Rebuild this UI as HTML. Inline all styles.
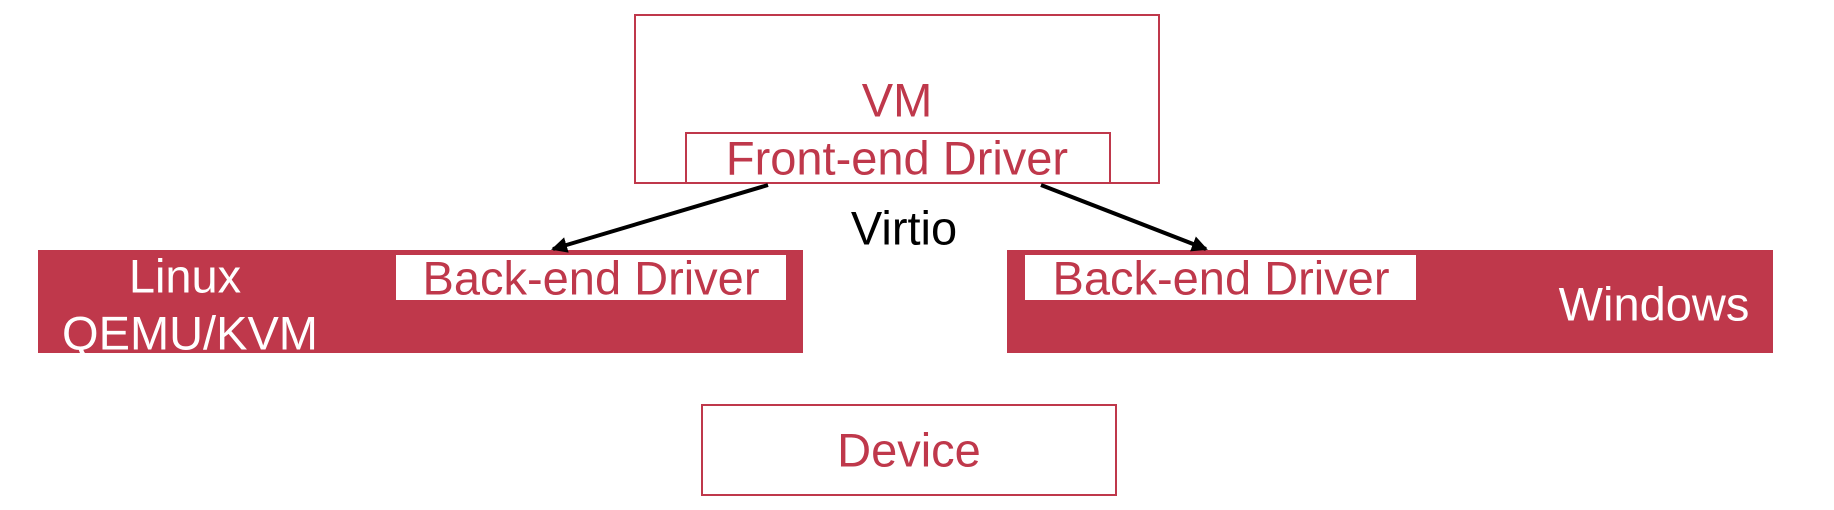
<!DOCTYPE html>
<html><head><style>
body{margin:0;width:1834px;height:510px;background:#fff;position:relative;overflow:hidden;font-family:"Liberation Sans",sans-serif}
.b{position:absolute;box-sizing:border-box}
.t{position:absolute;white-space:nowrap;transform:translate(-50%,-50%);font-size:47px;line-height:1}
.r{color:#bf384b}.w{color:#fff}
</style></head><body>
<div class="b" style="left:634px;top:14px;width:526px;height:170px;border:2px solid #bf384b"></div>
<div class="b" style="left:685px;top:132px;width:426px;height:52px;border:2px solid #bf384b;background:#fff"></div>
<div class="t r" style="left:897px;top:100px">VM</div>
<div class="t r" style="left:897px;top:158px">Front-end Driver</div>
<div class="b" style="left:38px;top:250px;width:765px;height:103px;background:#bf384b"></div>
<div class="b" style="left:396px;top:255px;width:390px;height:45px;background:#fff"></div>
<div class="t r" style="left:591px;top:278px">Back-end Driver</div>
<div class="t w" style="left:185px;top:276px">Linux</div>
<div class="t w" style="left:190px;top:333px">QEMU/KVM</div>
<div class="b" style="left:1007px;top:250px;width:766px;height:103px;background:#bf384b"></div>
<div class="b" style="left:1025px;top:255px;width:391px;height:45px;background:#fff"></div>
<div class="t r" style="left:1221px;top:278px">Back-end Driver</div>
<div class="t w" style="left:1654px;top:304px">Windows</div>
<div class="b" style="left:701px;top:404px;width:416px;height:92px;border:2px solid #bf384b"></div>
<div class="t r" style="left:909px;top:450px">Device</div>
<div class="t" style="left:904px;top:228px;color:#000">Virtio</div>
<svg width="1834" height="510" style="position:absolute;left:0;top:0">
<defs><marker id="a" markerWidth="4" markerHeight="4" refX="3.5" refY="2" orient="auto"><path d="M0,0L4,2L0,4z" fill="#000"/></marker></defs>
<line x1="768" y1="185" x2="553" y2="249" stroke="#000" stroke-width="4" marker-end="url(#a)"/>
<line x1="1041" y1="185" x2="1206" y2="249" stroke="#000" stroke-width="4" marker-end="url(#a)"/>
</svg>
</body></html>
